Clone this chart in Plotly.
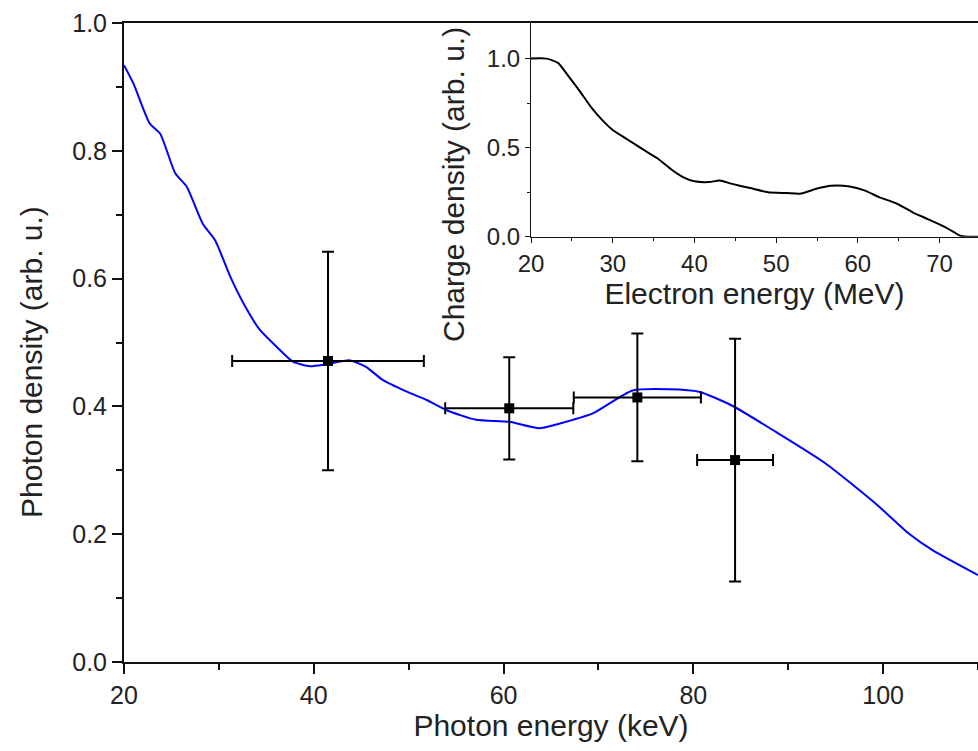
import plotly.graph_objects as go

# Main spectrum (blue line)
photon_energy = [20.0, 21.0, 22.7, 23.8, 25.4, 26.6, 28.3, 29.6, 31.2, 32.6, 34.3, 36.1,
                 37.8, 39.6, 41.3, 43.8, 45.5, 47.3, 49.8, 51.9, 54.0, 57.1, 60.6, 63.8,
                 66.6, 69.4, 73.6, 77.5, 80.6, 84.1, 88.7, 93.9, 99.2, 102.7, 105.2, 110.0]
photon_density = [0.934, 0.905, 0.843, 0.827, 0.765, 0.744, 0.686, 0.660, 0.603, 0.561, 0.520, 0.493,
                  0.470, 0.463, 0.466, 0.472, 0.462, 0.441, 0.423, 0.410, 0.394, 0.379, 0.376, 0.366,
                  0.376, 0.389, 0.425, 0.427, 0.423, 0.401, 0.360, 0.311, 0.248, 0.201, 0.175, 0.136]

# Measured points with error bars
meas_energy = [41.5, 60.6, 74.1, 84.4]
meas_density = [0.471, 0.397, 0.414, 0.316]
meas_xerr = [10.1, 6.75, 6.7, 4.0]
meas_yerr = [0.171, 0.080, 0.100, 0.190]

# Inset: electron spectrum
electron_energy = [20.0, 21.9, 23.3, 24.6, 26.0, 27.3, 28.9, 30.0, 31.8, 33.7, 35.5, 37.3, 38.6,
                   40.0, 41.8, 43.1, 44.5, 46.8, 49.0, 51.3, 52.9, 54.9, 56.7, 59.0, 60.8,
                   62.6, 64.8, 66.7, 68.5, 70.3, 71.6, 72.5, 73.4, 74.7]
charge_density = [1.0, 1.0, 0.976, 0.900, 0.815, 0.731, 0.646, 0.599, 0.546, 0.490, 0.439, 0.373, 0.335,
                  0.311, 0.307, 0.315, 0.298, 0.273, 0.250, 0.245, 0.241, 0.269, 0.286, 0.282, 0.260,
                  0.222, 0.185, 0.137, 0.100, 0.062, 0.030, 0.006, 0.0, 0.0]

FONT = "Arial, Liberation Sans, sans-serif"
TXT = "#222222"
W, H = 978, 751
ML, MR, MT, MB = 124, 0, 23, 89

fig = go.Figure()
fig.add_trace(go.Scatter(x=photon_energy, y=photon_density, mode="lines",
                         line=dict(color="#0000FF", width=2, shape="spline", smoothing=0.6),
                         showlegend=False, xaxis="x", yaxis="y"))
fig.add_trace(go.Scatter(x=meas_energy, y=meas_density, mode="markers",
                         marker=dict(symbol="square", size=10, color="black"),
                         error_x=dict(type="data", array=meas_xerr, color="black", thickness=2, width=6),
                         error_y=dict(type="data", array=meas_yerr, color="black", thickness=2, width=6),
                         showlegend=False, xaxis="x", yaxis="y"))
fig.add_trace(go.Scatter(x=electron_energy, y=charge_density, mode="lines",
                         line=dict(color="black", width=2, shape="spline", smoothing=0.6),
                         showlegend=False, xaxis="x2", yaxis="y2"))

axis_common = dict(showgrid=False, zeroline=False, showline=True, linecolor="#111111",
                   ticks="outside", tickcolor="#111111")

def px_to_paper_x(px):
    return (px - ML) / (W - ML - MR)

def px_to_paper_y(py):
    return (H - MB - py) / (H - MT - MB)

fig.update_layout(
    width=W, height=H,
    margin=dict(l=ML, r=MR, t=MT, b=MB),
    paper_bgcolor="white", plot_bgcolor="white",
    font=dict(family=FONT, color=TXT),
    xaxis=dict(**axis_common, domain=[0, 1], range=[20, 110], tick0=20, dtick=20,
               tickfont=dict(family=FONT, size=25, color=TXT),
               linewidth=2, tickwidth=2, ticklen=10, mirror=True,
               minor=dict(dtick=10, ticks="outside", ticklen=6, tickwidth=2, tickcolor="#111111"),
               title=dict(text="Photon energy (keV)", font=dict(family=FONT, size=30, color=TXT), standoff=6)),
    yaxis=dict(**axis_common, domain=[0, 1], range=[0, 1.0], tick0=0, dtick=0.2, tickformat=".1f",
               tickfont=dict(family=FONT, size=25, color=TXT),
               linewidth=2, tickwidth=2, ticklen=10,
               minor=dict(dtick=0.1, ticks="outside", ticklen=6, tickwidth=2, tickcolor="#111111")),
    xaxis2=dict(**axis_common, domain=[px_to_paper_x(531), 1.0], range=[20, 74.7], tick0=20, dtick=10,
                anchor="y2", tickfont=dict(family=FONT, size=24, color=TXT),
                linewidth=1, tickwidth=1, ticklen=5,
                minor=dict(dtick=5, ticks="outside", ticklen=3, tickwidth=1, tickcolor="#111111"),
                title=dict(text="Electron energy (MeV)", font=dict(family=FONT, size=30, color=TXT), standoff=2)),
    yaxis2=dict(**axis_common, domain=[px_to_paper_y(236.7), 1.0], range=[0, 1.2], tick0=0, dtick=0.5,
                tickformat=".1f", anchor="x2", tickfont=dict(family=FONT, size=24, color=TXT),
                linewidth=1, tickwidth=1, ticklen=5,
                minor=dict(dtick=0.25, ticks="outside", ticklen=3, tickwidth=1, tickcolor="#111111")),
    annotations=[
        dict(text="Photon density (arb. u.)", textangle=-90, showarrow=False,
             xref="paper", yref="paper", x=px_to_paper_x(31), y=px_to_paper_y(362),
             xanchor="center", yanchor="middle", font=dict(family=FONT, size=30, color=TXT)),
        dict(text="Charge density (arb. u.)", textangle=-90, showarrow=False,
             xref="paper", yref="paper", x=px_to_paper_x(453), y=px_to_paper_y(185),
             xanchor="center", yanchor="middle", font=dict(family=FONT, size=30, color=TXT)),
    ],
)

fig.write_html("out.html")
